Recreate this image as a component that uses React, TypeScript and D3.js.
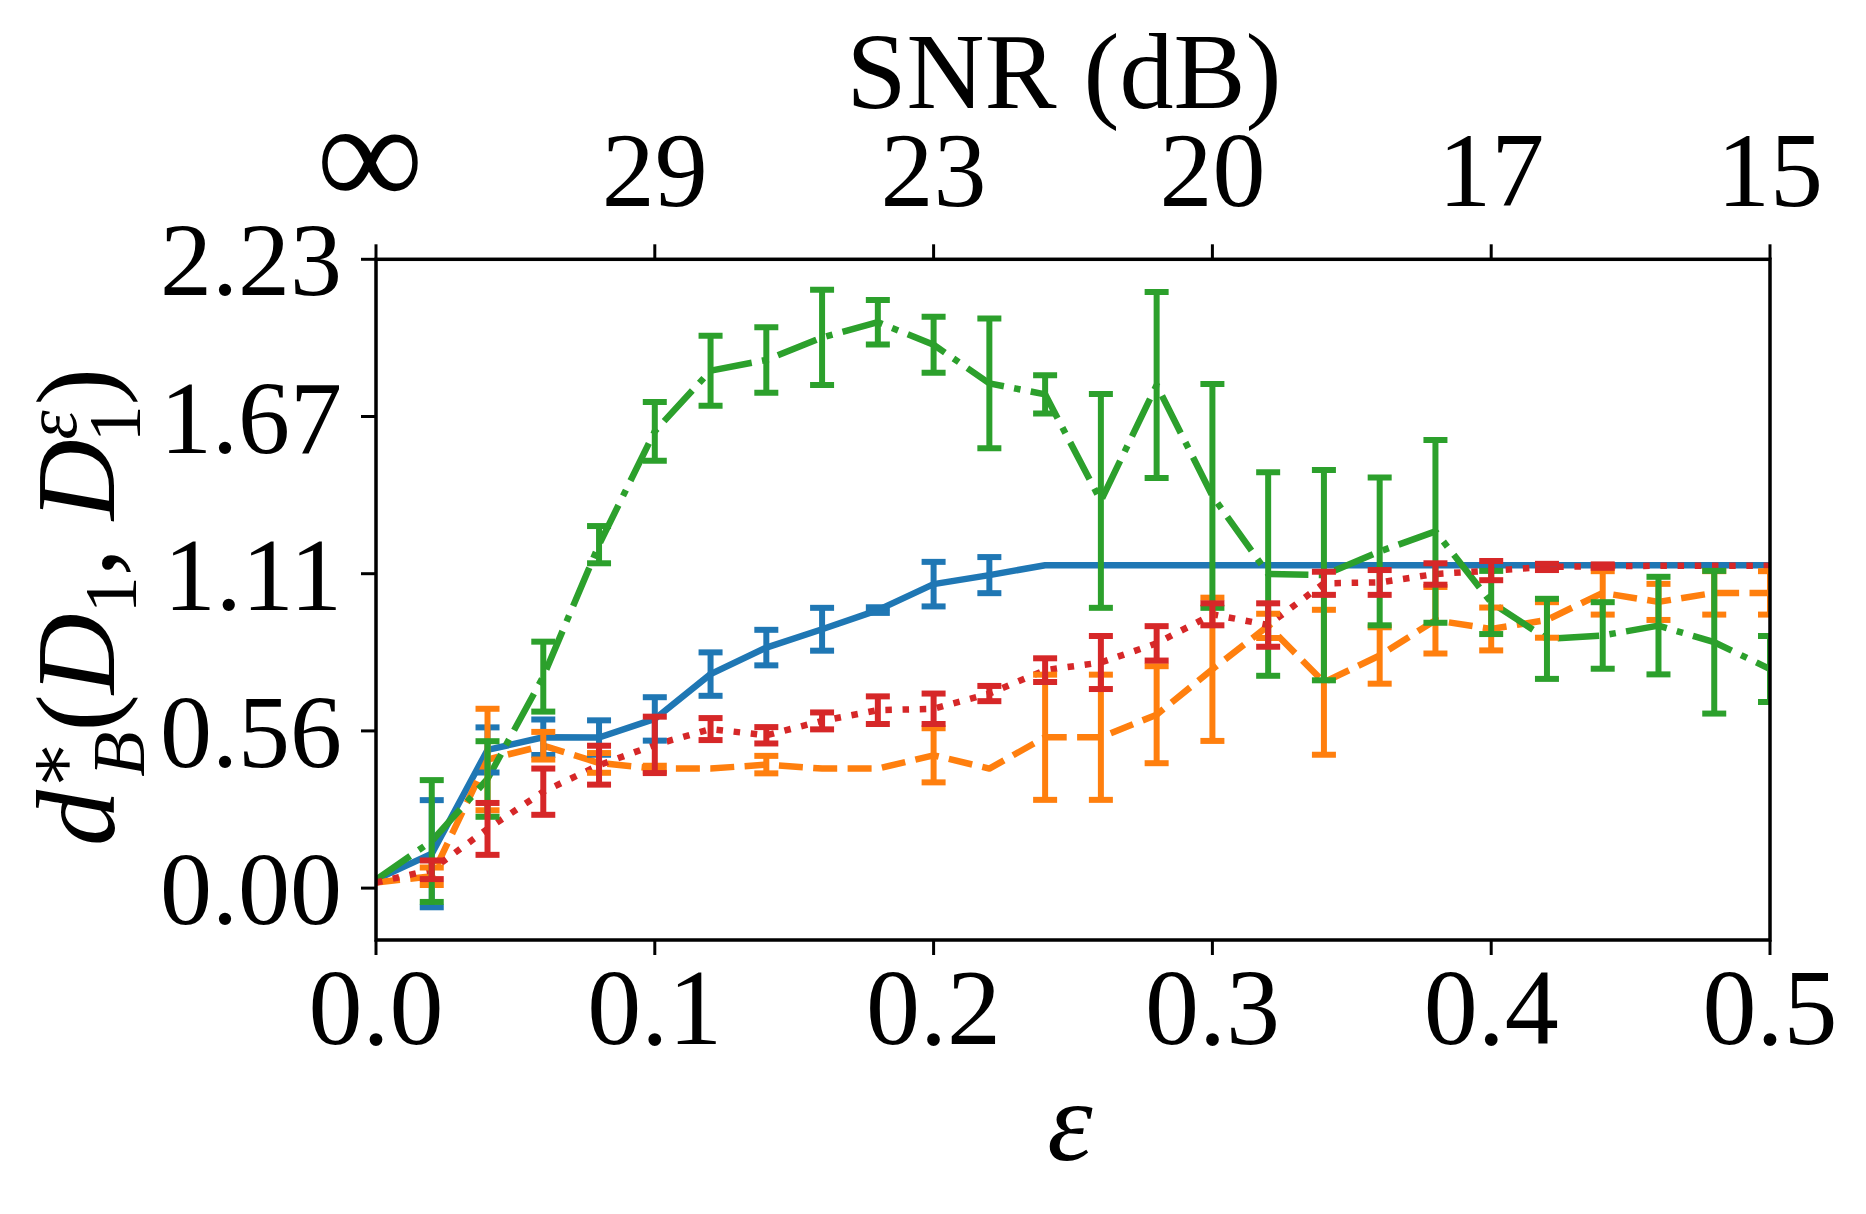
import React from "react";
import * as d3 from "d3";

const eps = [0, 0.02, 0.04, 0.06, 0.08, 0.1, 0.12, 0.14, 0.16, 0.18, 0.2, 0.22, 0.24, 0.26, 0.28, 0.3, 0.32, 0.34, 0.36, 0.38, 0.4, 0.42, 0.44, 0.46, 0.48, 0.5];

const blueMean = [0.03, 0.122, 0.49, 0.535, 0.534, 0.6, 0.759, 0.853, 0.918, 0.986, 1.078, 1.11, 1.145, 1.145, 1.145, 1.145, 1.145, 1.145, 1.145, 1.145, 1.145, 1.145, 1.145, 1.145, 1.145, 1.145];
const blueErr = [0, 0.19, 0.08, 0.063, 0.061, 0.077, 0.077, 0.063, 0.076, 0.01, 0.079, 0.064, 0, 0, 0, 0, 0, 0, 0, 0, 0, 0, 0, 0, 0, 0];

const orangeMean = [0.02, 0.042, 0.456, 0.505, 0.444, 0.424, 0.424, 0.438, 0.424, 0.424, 0.471, 0.424, 0.535, 0.535, 0.615, 0.776, 0.93, 0.73, 0.825, 0.95, 0.919, 0.951, 1.047, 1.015, 1.047, 1.047];
const orangeErr = [0, 0.031, 0.18, 0.049, 0.035, 0.01, 0, 0.031, 0, 0, 0.096, 0, 0.222, 0.222, 0.172, 0.254, 0.043, 0.257, 0.1, 0.118, 0.076, 0.063, 0.077, 0.064, 0.077, 0.077];

const greenMean = [0.03, 0.167, 0.387, 0.75, 1.218, 1.62, 1.835, 1.873, 1.953, 2.007, 1.927, 1.79, 1.751, 1.373, 1.784, 1.391, 1.114, 1.11, 1.194, 1.265, 1.013, 0.884, 0.896, 0.931, 0.872, 0.777];
const greenErr = [0, 0.216, 0.134, 0.124, 0.066, 0.104, 0.124, 0.116, 0.169, 0.079, 0.099, 0.23, 0.068, 0.379, 0.33, 0.397, 0.361, 0.373, 0.262, 0.324, 0.112, 0.142, 0.118, 0.173, 0.253, 0.117];

const redMean = [0.02, 0.065, 0.21, 0.342, 0.436, 0.508, 0.564, 0.542, 0.593, 0.631, 0.636, 0.69, 0.773, 0.8, 0.868, 0.971, 0.933, 1.081, 1.084, 1.114, 1.126, 1.139, 1.142, 1.143, 1.143, 1.143];
const redErr = [0, 0.033, 0.092, 0.082, 0.069, 0.1, 0.039, 0.029, 0.03, 0.049, 0.054, 0.027, 0.042, 0.094, 0.061, 0.039, 0.077, 0.041, 0.044, 0.038, 0.034, 0.011, 0.006, 0, 0, 0];

const xTicks = [0, 0.1, 0.2, 0.3, 0.4, 0.5];
const xTickLabels = ["0.0", "0.1", "0.2", "0.3", "0.4", "0.5"];
const snrTickLabels = ["∞", "29", "23", "20", "17", "15"];
const yTicks = [0, 0.5575, 1.115, 1.6725, 2.23];
const yTickLabels = ["0.00", "0.56", "1.11", "1.67", "2.23"];

const series = [
  { mean: blueMean, err: blueErr, color: "#1f77b4", dash: "none" },
  { mean: orangeMean, err: orangeErr, color: "#ff7f0e", dash: "24,10.4" },
  { mean: greenMean, err: greenErr, color: "#2ca02c", dash: "41.6,10.4,6.5,10.4" },
  { mean: redMean, err: redErr, color: "#d62728", dash: "6.5,10.7" },
];

const L = 376, R = 1770, T = 259.3, B = 940;
const FONT = "'Liberation Serif', 'DejaVu Serif', serif";

export default function App() {
  const x = d3.scaleLinear().domain([0, 0.5]).range([L, R]);
  const y = d3.scaleLinear().domain([-0.184, 2.23]).range([B, T]);
  const lw = 6.5;
  const elw = 6;
  const cap = 12;

  return (
    <svg width={1866} height={1214} style={{ position: "absolute", left: 0, top: 0, background: "#fff" }} fontFamily={FONT}>
      <defs>
        <clipPath id="plotclip">
          <rect x={L} y={T} width={R - L} height={B - T} />
        </clipPath>
      </defs>
      <rect x={0} y={0} width={1866} height={1214} fill="#fff" />
      <g clipPath="url(#plotclip)">
        {series.map((s, i) => {
          const line = d3.line<number>().x((_, j) => x(eps[j])).y((v) => y(v));
          return (
            <path key={"l" + i} d={line(s.mean) || ""} fill="none" stroke={s.color} strokeWidth={lw}
              strokeDasharray={s.dash} strokeLinecap="butt" strokeLinejoin="round" />
          );
        })}
        {series.map((s, i) => (
          <g key={"e" + i} stroke={s.color} strokeWidth={elw}>
            {s.mean.map((m, j) => {
              const e = s.err[j];
              if (e <= 0) return null;
              const cx = x(eps[j]);
              const y0 = y(m - e), y1 = y(m + e);
              return (
                <g key={j}>
                  <line x1={cx} x2={cx} y1={y0} y2={y1} />
                  <line x1={cx - cap} x2={cx + cap} y1={y0} y2={y0} />
                  <line x1={cx - cap} x2={cx + cap} y1={y1} y2={y1} />
                </g>
              );
            })}
          </g>
        ))}
      </g>
      <rect x={L} y={T} width={R - L} height={B - T} fill="none" stroke="#000" strokeWidth={3.5} />
      {xTicks.map((t, i) => (
        <g key={"bx" + i}>
          <line x1={x(t)} x2={x(t)} y1={B} y2={B + 15} stroke="#000" strokeWidth={3} />
          <text x={x(t)} y={1044} fontSize={108} textAnchor="middle">{xTickLabels[i]}</text>
        </g>
      ))}
      {xTicks.map((t, i) => (
        <g key={"tx" + i}>
          <line x1={x(t)} x2={x(t)} y1={T} y2={T - 15} stroke="#000" strokeWidth={3} />
          <text x={x(t) + (i === 0 ? -6 : 0)} y={206} fontSize={i === 0 ? 150 : 106} textAnchor="middle">{snrTickLabels[i]}</text>
        </g>
      ))}
      {yTicks.map((t, i) => (
        <g key={"ly" + i}>
          <line x1={L} x2={L - 15} y1={y(t)} y2={y(t)} stroke="#000" strokeWidth={3} />
          <text x={342} y={y(t) + 36} fontSize={104} textAnchor="end">{yTickLabels[i]}</text>
        </g>
      ))}
      <text x={1064} y={108} fontSize={108} textAnchor="middle">SNR (dB)</text>
      <text x={1070} y={1160} fontSize={115} textAnchor="middle" fontStyle="italic">ε</text>
      <text transform="translate(114,607) rotate(-90)" fontSize={112} textAnchor="middle">
        <tspan fontStyle="italic">d</tspan>
        <tspan fontSize={74} dy={-38}>∗</tspan>
        <tspan fontSize={74} fontStyle="italic" dx={-37} dy={68}>B</tspan>
        <tspan dy={-30}>(</tspan>
        <tspan fontStyle="italic">D</tspan>
        <tspan fontSize={74} dy={22}>1</tspan>
        <tspan dy={-22}>, </tspan>
        <tspan fontStyle="italic">D</tspan>
        <tspan fontSize={74} fontStyle="italic" dy={-38}>ε</tspan>
        <tspan fontSize={74} dx={-32} dy={64}>1</tspan>
        <tspan dy={-26}>)</tspan>
      </text>
    </svg>
  );
}
